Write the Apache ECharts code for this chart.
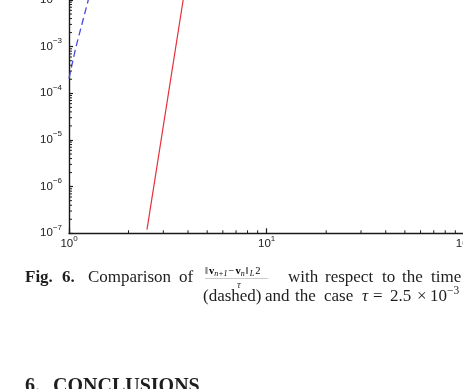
<!DOCTYPE html>
<html><head><meta charset="utf-8">
<script src="https://cdn.jsdelivr.net/npm/echarts@6/dist/echarts.min.js"></script>
<style>html,body{margin:0;padding:0;background:#fff;overflow:hidden}#c{width:463px;height:389px}</style>
</head><body><div id="c"></div>
<script>
// ---- data ----
const redX = [2.48, 3.16, 3.78];
const redY = [1.2e-7, 8.1e-5, 1.0e-2];
const blueX = [1.0, 1.085, 1.252];
const blueY = [2.1e-4, 1.0e-3, 1.0e-2];
const xMin = 1, xMax = 100;
const yMin = 1e-7, yMax = 1e-2;
const minorMantissas = [2, 3, 4, 5, 6, 7, 8, 9];
const xDecades = [1, 10];
const yDecades = [1e-7, 1e-6, 1e-5, 1e-4, 1e-3];

const xMinor = [];
xDecades.forEach(d => minorMantissas.forEach(m => xMinor.push(m * d)));
const yMinor = [];
yDecades.forEach(d => minorMantissas.forEach(m => yMinor.push(m * d)));

const tickData = xMinor.map(v => [v, yMin, 0]).concat(yMinor.map(v => [xMin, v, 1]));

function supLabel(v) {
  const e = Math.round(Math.log10(v));
  const s = e < 0 ? '\u2212' + (-e) : String(e);
  return '{b|10}{s|' + s + '}';
}
const richLab = {
  b: { fontSize: 11.5, fontFamily: 'Liberation Sans, Arial, sans-serif', color: '#222', lineHeight: 12, padding: [5, 0, 5, 0] },
  s: { fontSize: 8, fontFamily: 'Liberation Sans, Arial, sans-serif', color: '#222', lineHeight: 8, padding: [0, 0, 12, 0] }
};

const chart = echarts.init(document.getElementById('c'), null, { renderer: 'canvas' });
const serif = 'Liberation Serif, Times New Roman, serif';
function word(t, x, y, size, extra) {
  return {
    type: 'text', x: x, y: y, silent: true,
    style: Object.assign({ text: t, fontSize: size, fontFamily: serif, fill: '#1e1e1e', verticalAlign: 'middle', align: 'left' }, extra || {})
  };
}
const L1 = 278, L2 = 297, FS = 17;
const graphics = [
  word('Fig.', 25, L1, FS, { fontWeight: 'bold' }),
  word('6.', 62, L1, FS, { fontWeight: 'bold' }),
  word('Comparison', 88, L1, FS),
  word('of', 179, L1, FS),
  {
    type: 'text', x: 205, y: 271.5, silent: true,
    style: {
      text: '{n|\u2016}{v|v}{sb|n+1}{n|\u2212}{v|v}{sb|n}{n|\u2016}{sb|L}{n|2}',
      verticalAlign: 'middle', align: 'left',
      rich: {
        n: { fontSize: 10.5, fontFamily: serif, color: '#333', padding: [0, 1, 0, 0] },
        v: { fontSize: 10.5, fontFamily: serif, fontWeight: 'bold', color: '#333' },
        sb: { fontSize: 8, fontFamily: serif, fontStyle: 'italic', color: '#333', padding: [4, 1, 0, 0] }
      }
    }
  },
  { type: 'line', silent: true, shape: { x1: 205, y1: 278.5, x2: 268, y2: 278.5 }, style: { stroke: '#aaa', lineWidth: 0.6 } },
  word('\u03C4', 237, 285, 10.5, { fontStyle: 'italic', fill: '#333' }),
  word('with', 288, L1, FS),
  word('respect', 325, L1, FS),
  word('to', 382, L1, FS),
  word('the', 402, L1, FS),
  word('time', 431, L1, FS),
  word('(dashed)', 203, L2, FS),
  word('and', 265, L2, FS),
  word('the', 295, L2, FS),
  word('case', 324, L2, FS),
  word('\u03C4', 362, L2, FS, { fontStyle: 'italic' }),
  word('=', 373, L2, FS),
  word('2.5', 390, L2, FS),
  word('\u00D7', 417, L2, FS),
  word('10', 430, L2, FS),
  word('\u22123', 447, L2 - 6, 11.5),
  word('6.', 25, 387, 20, { fontWeight: 'bold' }),
  word('CONCLUSIONS', 53, 387, 20, { fontWeight: 'bold' })
];

chart.setOption({
  animation: false,
  backgroundColor: '#fff',
  grid: { left: 69, top: 0, width: 395.4, height: 233.3, containLabel: false, outerBoundsMode: 'none' },
  xAxis: {
    type: 'log', logBase: 10, min: xMin, max: xMax,
    axisLine: { show: true, onZero: false, lineStyle: { color: '#1a1a1a', width: 1.4 } },
    axisTick: { show: true, inside: true, length: 5, lineStyle: { color: '#1a1a1a', width: 1.2 } },
    splitLine: { show: false },
    axisLabel: { margin: 5, formatter: supLabel, rich: richLab, showMinLabel: true, showMaxLabel: true, hideOverlap: false }
  },
  yAxis: {
    type: 'log', logBase: 10, min: yMin, max: yMax,
    axisLine: { show: true, onZero: false, lineStyle: { color: '#1a1a1a', width: 1.4 } },
    axisTick: { show: true, inside: true, length: 4, lineStyle: { color: '#1a1a1a', width: 1.2 } },
    splitLine: { show: false },
    axisLabel: { margin: 7, formatter: supLabel, rich: richLab, showMinLabel: true, showMaxLabel: true, hideOverlap: false }
  },
  series: [
    {
      type: 'custom', silent: true, clip: false, z: 5,
      encode: { x: 0, y: 1 },
      data: tickData,
      renderItem: function (params, api) {
        const p = api.coord([api.value(0), api.value(1)]);
        const dir = api.value(2);
        const len = 3;
        return {
          type: 'line',
          shape: dir === 0 ? { x1: p[0], y1: p[1], x2: p[0], y2: p[1] - len } : { x1: p[0], y1: p[1], x2: p[0] + len, y2: p[1] },
          style: { stroke: '#1a1a1a', lineWidth: 1 }
        };
      }
    },
    {
      type: 'line', name: 'tau25e-3', showSymbol: false, symbol: 'none', clip: true,
      data: redX.map((x, i) => [x, redY[i]]),
      lineStyle: { color: '#e8303c', width: 1.2 }
    },
    {
      type: 'line', name: 'dashed', showSymbol: false, symbol: 'none', clip: true,
      data: blueX.map((x, i) => [x, blueY[i]]),
      lineStyle: { color: '#4848dc', width: 1.3, type: [7, 4] }
    }
  ],
  graphic: graphics
});
</script></body></html>
